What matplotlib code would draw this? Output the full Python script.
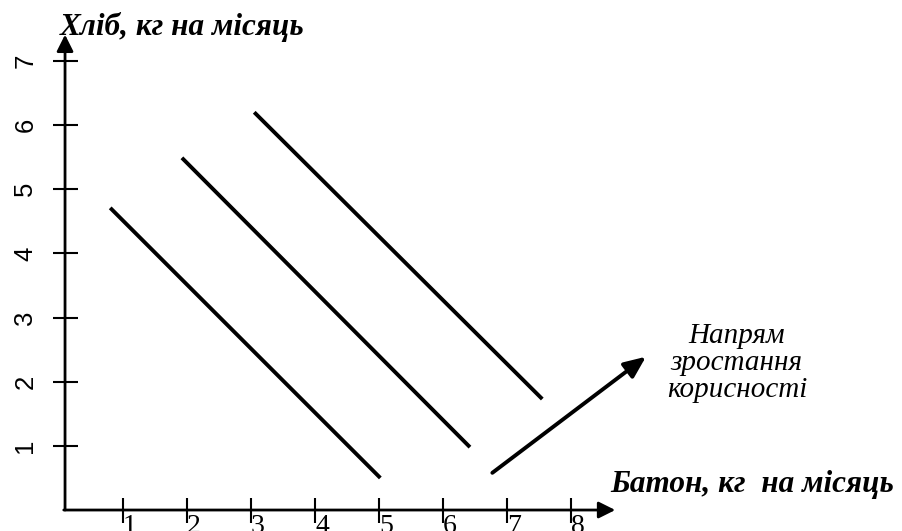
import matplotlib.pyplot as plt

# значення на осях
x_ticks = [1, 2, 3, 4, 5, 6, 7, 8]
y_ticks = [1, 2, 3, 4, 5, 6, 7]

# криві байдужості (прямі відрізки): початок і кінець
curves_x = [[0.80, 5.02], [1.92, 6.42], [3.05, 7.55]]
curves_y = [[4.71, 0.50], [5.49, 0.98], [6.20, 1.73]]

# стрілка "напрям зростання корисності"
growth_start = (6.77, 0.58)
growth_end = (9.17, 2.39)

y_label = "Хліб, кг на місяць"
x_label = "Батон, кг  на місяць"
growth_text = "Напрям\nзростання\nкорисності"

serif = "Liberation Serif"
sans = "Liberation Sans"

fig = plt.figure(figsize=(9.02, 5.31), dpi=100)
ax = fig.add_axes([0, 0, 1, 1])
ax.set_xlim(-0.922, 13.17)
ax.set_ylim(-0.327, 7.95)

# осі зі стрілками
x0 = 0.094
for s in ["top", "right", "left", "bottom"]:
    ax.spines[s].set_visible(False)
ax.spines["left"].set_position(("data", x0))
ax.spines["bottom"].set_position(("data", 0))

arrow_kw = dict(arrowstyle="-|>,head_length=0.5,head_width=0.25",
                color="black", lw=2.0, mutation_scale=20,
                shrinkA=0, shrinkB=0)
ax.annotate("", xy=(x0, 7.41), xytext=(x0, 0), arrowprops=arrow_kw)
ax.annotate("", xy=(8.69, 0), xytext=(x0 - 0.02, 0), arrowprops=arrow_kw)

ax.set_xticks(x_ticks)
ax.set_yticks(y_ticks)
# підписи на осі X у оригіналі обрізані нижнім краєм
ax.set_xticklabels([str(v) for v in x_ticks], ha="left",
                   fontfamily=serif, fontsize=20)
ax.set_yticklabels([str(v) for v in y_ticks], rotation=90, va="center",
                   fontfamily=sans, fontsize=18.5)
ax.tick_params(axis="both", direction="inout", length=18, width=1.5,
               color="black")
ax.tick_params(axis="x", pad=-6)
ax.tick_params(axis="y", pad=11)

# криві байдужості
for cx, cy in zip(curves_x, curves_y):
    ax.plot(cx, cy, color="black", lw=2.8, solid_capstyle="butt")

# стрілка зростання корисності
ax.annotate("", xy=growth_end, xytext=growth_start,
            arrowprops=dict(arrowstyle="-|>,head_length=0.65,head_width=0.28",
                            color="black", lw=2.8, mutation_scale=20,
                            shrinkA=0, shrinkB=0))

ax.text(10.59, 1.764, growth_text, ha="center", va="baseline",
        multialignment="center", linespacing=1.05,
        fontfamily=serif, fontstyle="italic", fontsize=21)

fig.text(60 / 902, 1 - 35 / 531, y_label, ha="left", va="baseline",
         fontfamily=serif, fontstyle="italic", fontweight="bold",
         fontsize=22.5)
fig.text(610 / 902, 1 - 492 / 531, x_label, ha="left", va="baseline",
         fontfamily=serif, fontstyle="italic", fontweight="bold",
         fontsize=22.5)

fig.savefig("out.png", dpi=100)
